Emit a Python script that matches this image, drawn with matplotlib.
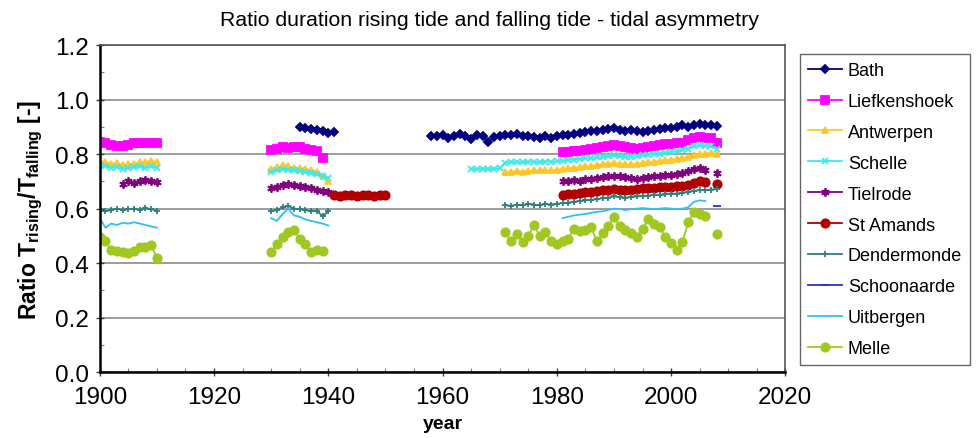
import numpy as np
import matplotlib.pyplot as plt
from matplotlib.ticker import MultipleLocator

plt.rcParams['font.family'] = ['Liberation Sans', 'DejaVu Sans']
plt.rcParams['mathtext.fontset'] = 'custom'
plt.rcParams['mathtext.rm'] = 'Liberation Sans:bold'
plt.rcParams['mathtext.bf'] = 'Liberation Sans:bold'

# ratio Trising/Tfalling per station, one list per measuring period
bath_1935 = [0.900, 0.895, 0.893, 0.888, 0.883, 0.878, 0.880]
bath_1958 = [0.865, 0.866, 0.870, 0.860, 0.868, 0.873, 0.868, 0.856, 0.870, 0.868,
             0.843, 0.864, 0.866, 0.870, 0.870, 0.874, 0.866, 0.865, 0.862, 0.860,
             0.865, 0.860, 0.866, 0.870, 0.871, 0.874, 0.876, 0.880, 0.884, 0.886,
             0.889, 0.892, 0.895, 0.890, 0.885, 0.890, 0.885, 0.880, 0.885, 0.890,
             0.891, 0.895, 0.895, 0.900, 0.905, 0.900, 0.905, 0.910, 0.906, 0.905,
             0.902]

lief_1900 = [0.845, 0.840, 0.835, 0.830, 0.830, 0.835, 0.840, 0.840, 0.842, 0.840, 0.840]
lief_1930 = [0.815, 0.820, 0.825, 0.822, 0.825, 0.825, 0.820, 0.815, 0.810, 0.785]
lief_1981 = [0.807, 0.808, 0.810, 0.812, 0.815, 0.818, 0.822, 0.826, 0.830, 0.832,
             0.828, 0.825, 0.822, 0.820, 0.822, 0.826, 0.830, 0.834, 0.836, 0.838,
             0.840, 0.842, 0.850, 0.860, 0.862, 0.860, 0.858, 0.840]

antw_1900 = [0.775, 0.770, 0.765, 0.768, 0.760, 0.762, 0.765, 0.770, 0.772, 0.775, 0.770]
antw_1930 = [0.745, 0.752, 0.760, 0.755, 0.750, 0.748, 0.745, 0.740, 0.735, 0.720, 0.700]
antw_1971 = [0.735, 0.736, 0.738, 0.736, 0.738, 0.740, 0.740, 0.742, 0.740, 0.742,
             0.745, 0.748, 0.750, 0.752, 0.755, 0.757, 0.760, 0.762, 0.765, 0.768,
             0.765, 0.762, 0.762, 0.765, 0.768, 0.770, 0.772, 0.775, 0.778, 0.780,
             0.782, 0.785, 0.790, 0.795, 0.800, 0.802, 0.805, 0.800]

sche_1900 = [0.760, 0.755, 0.750, 0.752, 0.745, 0.748, 0.752, 0.755, 0.750, 0.755, 0.750]
sche_1930 = [0.735, 0.740, 0.745, 0.742, 0.740, 0.738, 0.735, 0.732, 0.728, 0.720, 0.712]
sche_1965 = [0.745, 0.745, 0.746, 0.745, 0.745, 0.748,
             0.768, 0.770, 0.770, 0.770, 0.772, 0.772, 0.770, 0.772, 0.772, 0.774,
             0.776, 0.778, 0.780, 0.782, 0.784, 0.786, 0.788, 0.790, 0.792, 0.795,
             0.792, 0.790, 0.790, 0.792, 0.795, 0.798, 0.800, 0.802, 0.805, 0.808,
             0.810, 0.815, 0.820, 0.830, 0.832, 0.830, 0.828, 0.820]

tiel_1904 = [0.690, 0.700, 0.695, 0.700, 0.705, 0.700, 0.698]
tiel_1930 = [0.675, 0.680, 0.688, 0.692, 0.685, 0.682, 0.678, 0.675, 0.670, 0.665, 0.660]
tiel_1981 = [0.700, 0.702, 0.705, 0.703, 0.708, 0.710, 0.712, 0.715, 0.718, 0.720,
             0.718, 0.715, 0.712, 0.710, 0.712, 0.715, 0.718, 0.720, 0.722, 0.725,
             0.728, 0.732, 0.738, 0.745, 0.748, 0.742]
tiel_2008 = [0.730]

stam_1941 = [0.650, 0.648, 0.650, 0.650, 0.648, 0.650, 0.650, 0.648, 0.650, 0.650]
stam_1981 = [0.650, 0.652, 0.655, 0.658, 0.660, 0.662, 0.665, 0.668, 0.670, 0.672,
             0.670, 0.668, 0.670, 0.672, 0.675, 0.675, 0.676, 0.678, 0.680, 0.680,
             0.682, 0.682, 0.685, 0.695, 0.700, 0.698]
stam_2008 = [0.690]

dend_1900 = [0.595, 0.590, 0.595, 0.600, 0.595, 0.598, 0.600, 0.595, 0.602, 0.598, 0.592]
dend_1930 = [0.590, 0.595, 0.605, 0.610, 0.600, 0.598, 0.595, 0.590, 0.592, 0.572, 0.590]
dend_1971 = [0.612, 0.610, 0.615, 0.612, 0.618, 0.615, 0.612, 0.618, 0.615, 0.618,
             0.620, 0.622, 0.625, 0.628, 0.630, 0.632, 0.635, 0.638, 0.640, 0.645,
             0.642, 0.640, 0.642, 0.645, 0.645, 0.648, 0.650, 0.650, 0.652, 0.655,
             0.655, 0.658, 0.660, 0.665, 0.668, 0.668, 0.670, 0.672]

scho_2008 = [0.610]

uitb_1900 = [0.565, 0.530, 0.545, 0.540, 0.548, 0.545, 0.550, 0.545, 0.540, 0.535, 0.530]
uitb_1930 = [0.565, 0.555, 0.580, 0.600, 0.575, 0.570, 0.560, 0.555, 0.550, 0.545, 0.538]
uitb_1981 = [0.565, 0.570, 0.575, 0.578, 0.580, 0.585, 0.588, 0.590, 0.595, 0.600,
             0.598, 0.595, 0.598, 0.600, 0.602, 0.600, 0.598, 0.600, 0.602, 0.600,
             0.598, 0.600, 0.605, 0.625, 0.630, 0.628]

mell_1900 = [0.495, 0.480, 0.450, 0.445, 0.440, 0.438, 0.445, 0.458, 0.460, 0.465, 0.420]
mell_1930 = [0.440, 0.470, 0.495, 0.515, 0.520, 0.490, 0.470, 0.440, 0.450, 0.445]
mell_1971 = [0.513, 0.480, 0.506, 0.477, 0.500, 0.540, 0.500, 0.513, 0.482, 0.470,
             0.480, 0.490, 0.525, 0.517, 0.520, 0.532, 0.480, 0.510, 0.536, 0.568,
             0.536, 0.520, 0.510, 0.495, 0.525, 0.561, 0.545, 0.532, 0.495, 0.475,
             0.450, 0.477, 0.550, 0.587, 0.580, 0.572]
mell_2008 = [0.506]


def join(*segments):
    """(first year, values) pieces -> x, y with NaN breaks between them"""
    xs, ys = [], []
    for start, vals in segments:
        xs += list(range(start, start + len(vals))) + [np.nan]
        ys += list(vals) + [np.nan]
    return np.array(xs, float), np.array(ys, float)


asterisk = (6, 2, 0)
stations = [
    ('Bath', [(1935, bath_1935), (1958, bath_1958)], '#000080', 'D', 4),
    ('Liefkenshoek', [(1900, lief_1900), (1930, lief_1930), (1981, lief_1981)], '#FF00FF', 's', 5.5),
    ('Antwerpen', [(1900, antw_1900), (1930, antw_1930), (1971, antw_1971)], '#FFC828', '^', 5),
    ('Schelle', [(1900, sche_1900), (1930, sche_1930), (1965, sche_1965)], '#40E8E8', 'x', 5),
    ('Tielrode', [(1904, tiel_1904), (1930, tiel_1930), (1981, tiel_1981), (2008, tiel_2008)], '#800080', asterisk, 6),
    ('St Amands', [(1941, stam_1941), (1981, stam_1981), (2008, stam_2008)], '#B00000', 'o', 6),
    ('Dendermonde', [(1900, dend_1900), (1930, dend_1930), (1971, dend_1971)], '#2E8080', '+', 5),
    ('Schoonaarde', [(2008, scho_2008)], '#3030D0', '_', 6),
    ('Uitbergen', [(1900, uitb_1900), (1930, uitb_1930), (1981, uitb_1981)], '#30C0F0', None, 0),
    ('Melle', [(1900, mell_1900), (1930, mell_1930), (1971, mell_1971), (2008, mell_2008)], '#A0C820', 'o', 6),
]

fig = plt.figure(figsize=(9.78, 4.39), dpi=100)
ax = fig.add_axes([0.102, 0.150, 0.701, 0.745])

for name, segs, col, mk, ms in stations:
    x, y = join(*segs)
    ax.plot(x, y, color=col, lw=1.3, marker=mk, ms=ms, mec=col, mfc=col, mew=1.3, label=name)

ax.set_xlim(1900, 2020)
ax.set_ylim(0, 1.2)
ax.xaxis.set_major_locator(MultipleLocator(20))
ax.xaxis.set_minor_locator(MultipleLocator(5))
ax.yaxis.set_major_locator(MultipleLocator(0.2))
ax.yaxis.set_minor_locator(MultipleLocator(0.1))
ax.yaxis.set_major_formatter(lambda v, pos: f'{v:.1f}')
ax.tick_params(which='major', labelsize=17.5, direction='inout', length=6, width=1,
               color='#404040')
ax.tick_params(axis='x', which='major', pad=7)
ax.tick_params(axis='y', which='major', pad=5)
ax.tick_params(which='minor', direction='in', length=3, width=0.8, color='#808080')
ax.grid(axis='y', which='major', color='#8c8c8c', lw=1.2)
ax.set_axisbelow(True)

for s in ['left', 'bottom']:
    ax.spines[s].set_color('black')
    ax.spines[s].set_linewidth(1.8)
for s in ['top', 'right']:
    ax.spines[s].set_color('#555555')
    ax.spines[s].set_linewidth(1.2)

fig.text(0.5, 0.953, 'Ratio duration rising tide and falling tide - tidal asymmetry',
         fontsize=15.3, ha='center', va='center')
ax.set_xlabel('year', fontsize=14, fontweight='bold', labelpad=5)
ax.set_ylabel(r'Ratio T$_\mathregular{rising}$/T$_\mathregular{falling}$ [-]', fontsize=16.5,
              fontweight='bold', labelpad=7)

leg = fig.legend(loc='upper left', bbox_to_anchor=(0.818, 0.875), borderaxespad=0,
                 fontsize=13, frameon=True, fancybox=False, edgecolor='#666666',
                 framealpha=1, handlelength=1.9, handletextpad=0.3, labelspacing=0.77,
                 borderpad=0.45)
leg.get_frame().set_linewidth(1.0)

fig.savefig('out.png', dpi=100)
